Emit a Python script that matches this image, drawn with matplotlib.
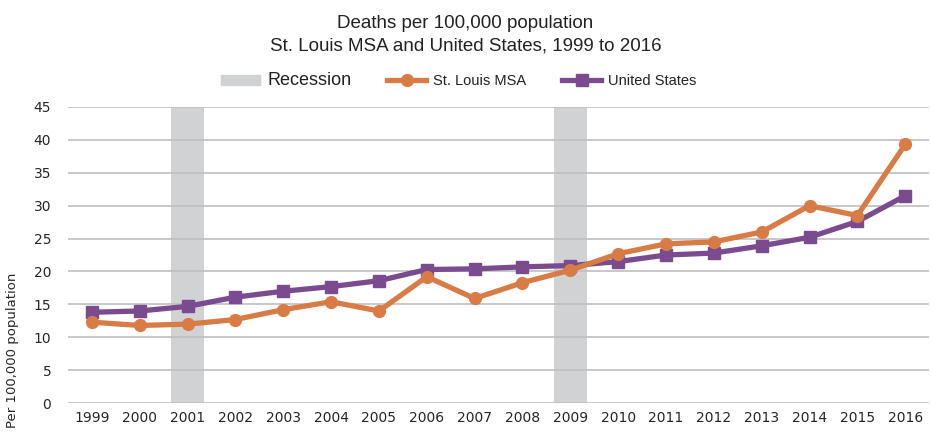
import matplotlib
matplotlib.use("Agg")
import matplotlib.pyplot as plt
from matplotlib.patches import Patch
from matplotlib.lines import Line2D

years = list(range(1999, 2017))
st_louis = [12.3, 11.8, 12.0, 12.7, 14.2, 15.4, 14.0, 19.2, 15.9, 18.3,
            20.2, 22.7, 24.2, 24.5, 26.0, 30.0, 28.5, 39.3]
united_states = [13.8, 14.0, 14.7, 16.1, 17.0, 17.7, 18.6, 20.3, 20.4, 20.7,
                 20.9, 21.5, 22.5, 22.8, 23.9, 25.2, 27.6, 31.5]
recession_years = [2001, 2009]

orange = "#D97B45"
purple = "#7B4B8F"
band = "#D1D2D4"
narrow = ["Liberation Sans", "DejaVu Sans"]

fig = plt.figure(figsize=(9.31, 4.33), dpi=100)
ax = fig.add_axes([0.073, 0.069, 0.925, 0.684])

for yr in recession_years:
    ax.axvspan(yr - 0.35, yr + 0.35, color=band, lw=0, zorder=0)

ax.plot(years, st_louis, color=orange, lw=3.8, marker="o", ms=8.5, zorder=3)
ax.plot(years, united_states, color=purple, lw=3.8, marker="s", ms=8.5, zorder=2)

ax.set_xlim(1998.5, 2016.5)
ax.set_ylim(0, 45)
ax.set_yticks(range(0, 46, 5))
ax.set_xticks(years)
ax.grid(axis="y", color="#BFBFBF", lw=1.2)
ax.set_axisbelow(True)
for s in ax.spines.values():
    s.set_visible(False)
ax.tick_params(length=0, labelsize=10, colors="#262626")
ax.tick_params(axis="y", pad=12)
ax.tick_params(axis="x", pad=6)

fig.text(0.5, 0.945, "Deaths per 100,000 population", ha="center", va="center",
         fontsize=13.5, family=narrow, color="#222222")
fig.text(0.5, 0.893, "St. Louis MSA and United States, 1999 to 2016", ha="center",
         va="center", fontsize=13.5, family=narrow, color="#222222")
fig.text(0.013, 0.19, "Per 100,000 population", rotation=90, ha="center",
         va="center", fontsize=9.5, color="#262626")

handles = [Patch(color=band),
           Line2D([], [], color=orange, lw=3.8, marker="o", ms=8.5),
           Line2D([], [], color=purple, lw=3.8, marker="s", ms=8.5)]
leg = fig.legend(handles, ["Recession", "St. Louis MSA", "United States"],
                 loc="center", bbox_to_anchor=(0.493, 0.815), ncol=3, frameon=False,
                 handlelength=2.8, columnspacing=2.6, handletextpad=0.5)
sizes = [13, 10.5, 10.5]
for t, sz in zip(leg.get_texts(), sizes):
    t.set_family(narrow)
    t.set_fontsize(sz)
    t.set_color("#222222")

fig.savefig("out.png", dpi=100)
